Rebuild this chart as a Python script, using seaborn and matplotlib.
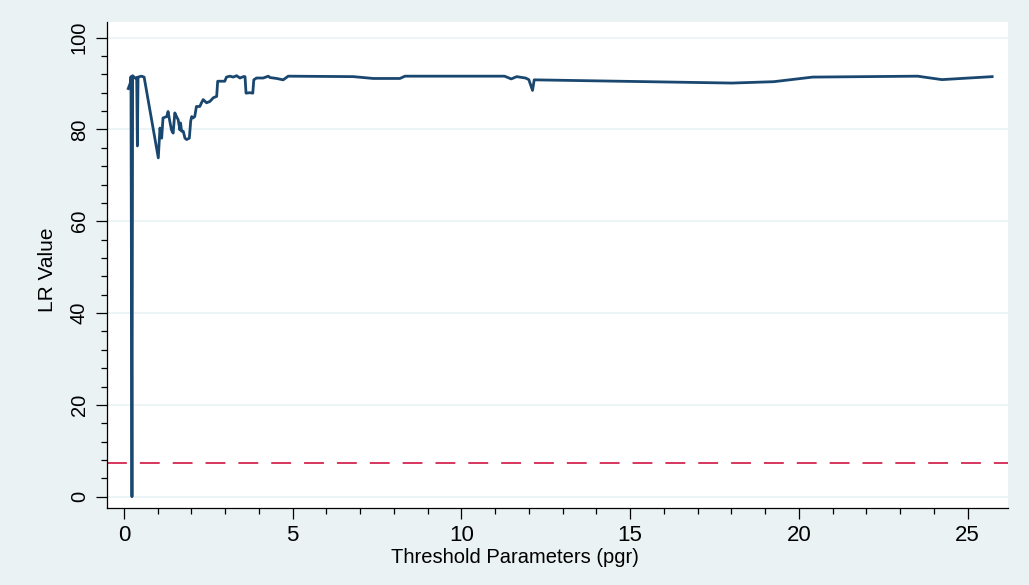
import matplotlib
matplotlib.use("Agg")
import matplotlib.pyplot as plt
import numpy as np
import pandas as pd
import seaborn as sns

# threshold grid (pgr) and LR statistic
thresh = [0.13, 0.20, 0.21, 0.24, 0.26, 0.33, 0.38, 0.40, 0.42, 0.52, 0.60,
          1.02, 1.07, 1.12, 1.16, 1.27, 1.31, 1.36, 1.41, 1.46, 1.51, 1.56,
          1.61, 1.66, 1.68, 1.71, 1.76, 1.81, 1.86, 1.94, 1.98, 2.01, 2.05,
          2.10, 2.15, 2.25, 2.30, 2.35, 2.45, 2.55, 2.65, 2.75, 2.78, 2.99,
          3.04, 3.14, 3.24, 3.34, 3.44, 3.54, 3.59, 3.62, 3.74, 3.82, 3.85,
          3.93, 4.13, 4.28, 4.33, 4.53, 4.72, 4.87, 6.80, 7.39, 8.18, 8.33,
          10.55, 11.28, 11.48, 11.64, 11.90, 12.00, 12.11, 12.16, 18.02,
          19.26, 20.41, 23.52, 24.24, 25.73]
lr = [88.9, 90.3, 91.5, 0.0, 91.7, 91.2, 91.3, 76.4, 91.4, 91.6, 91.4,
      73.8, 80.3, 78.1, 82.5, 82.8, 83.9, 81.8, 79.9, 79.2, 83.6, 82.8,
      82.1, 79.9, 81.4, 79.6, 79.6, 78.1, 77.8, 78.1, 81.8, 82.8, 82.5,
      82.8, 85.0, 85.0, 85.8, 86.5, 85.8, 86.1, 86.9, 87.2, 90.5, 90.5,
      91.4, 91.6, 91.4, 91.7, 91.2, 91.5, 91.5, 87.9, 88.0, 87.9, 90.8,
      91.2, 91.2, 91.6, 91.3, 91.1, 90.8, 91.6, 91.5, 91.1, 91.1, 91.6,
      91.6, 91.6, 91.0, 91.5, 91.2, 90.85, 88.5, 90.8, 90.1,
      90.4, 91.4, 91.6, 90.85, 91.5]
crit = 7.35  # 5% critical value

df = pd.DataFrame({"pgr": thresh, "LR": lr})

bg = "#EAF2F3"
plt.rcParams["font.family"] = ["Liberation Sans", "DejaVu Sans"]

fig = plt.figure(figsize=(10.29, 5.85), dpi=100, facecolor=bg)
ax = fig.add_axes([107/1029, 1-508/585, (1008-107)/1029, (508-22)/585])
ax.set_facecolor("white")

sns.lineplot(data=df, x="pgr", y="LR", ax=ax, color="#1A476F", lw=2.0,
             sort=False, estimator=None)
ax.axhline(crit, color="#CC0033", lw=1.1, dashes=(13, 8.5))

ax.set_xlim(-0.5, 26.2)
ax.set_ylim(-2.46, 103.4)
ax.set_xticks(np.arange(0, 26, 5))
ax.set_xticks(np.arange(0, 26, 1), minor=True)
ax.set_yticks(np.arange(0, 101, 20))
ax.set_yticks(np.arange(0, 101, 4), minor=True)
ax.grid(axis="y", which="major", color=bg, lw=1.2)
ax.set_axisbelow(True)

for s in ["top", "right"]:
    ax.spines[s].set_visible(False)
for s in ["left", "bottom"]:
    ax.spines[s].set_color("black")
    ax.spines[s].set_linewidth(0.9)

ax.tick_params(which="major", direction="out", length=8, width=0.9,
               colors="black")
ax.tick_params(which="minor", direction="out", length=4, width=0.9)
ax.tick_params(axis="x", labelsize=16, pad=4)
ax.tick_params(axis="y", labelsize=14.5, labelrotation=90, pad=5)
for t in ax.get_yticklabels():
    t.set_va("center")

ax.set_xlabel("Threshold Parameters (pgr)", fontsize=14.5)
ax.set_ylabel("LR Value", fontsize=15)
# Stata centres the x title on the whole graph
ax.xaxis.set_label_coords((514.5-107)/901, -40/486)
ax.yaxis.set_label_coords(-50/901, (508-270)/486)

fig.savefig("out.png", dpi=100, facecolor=bg)
